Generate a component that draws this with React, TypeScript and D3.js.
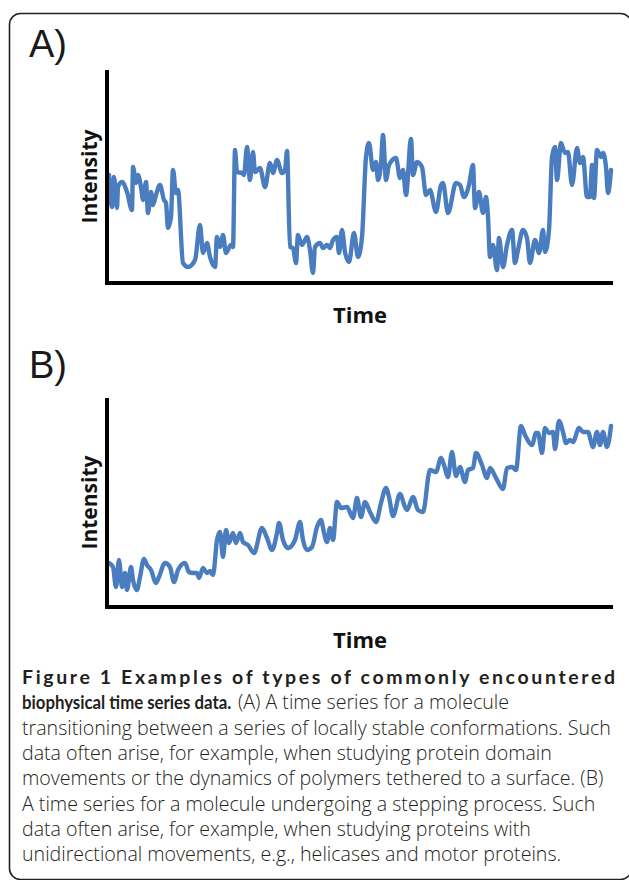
import React, { useLayoutEffect, useRef, useState } from "react";
import * as d3 from "d3";

// Panel A: time (arbitrary units) and intensity (arbitrary units)
const timeA = [2,5,7,10,11,15,20,25,26,29,31,34,36,39,41,44,46,49,53,57,59,61,64,66,69,71,76,81,88,93,96,100,103,108,110,113,116,119,124,126,128,130,135,137,140,143,146,148,153,158,163,166,170,175,178,180,183,186,189,191,195,200,203,206,208,213,216,220,223,226,230,232,235,238,242,247,251,255,259,262,266,269,271,274,276,279,282,289,293,296,299,304,306,310,315,319,323,329,334,336,341,349,353,357,362,366,368,372,376,379,381,383,386,390,392,396,400,405,408,411,416,420,423,428,432,436,438,442,445,448,450,454,458,461,465,470,473,476,480,483,485,487,490,494,496,499,501,504];
const intensityA = [108,76,106,75,96,101,91,73,116,100,108,96,83,101,70,91,78,88,98,83,80,55,66,113,90,93,20,16,23,58,30,40,26,16,46,36,48,30,38,36,133,111,110,108,136,103,131,111,115,96,120,110,123,110,113,132,36,35,20,48,38,46,33,10,36,40,35,38,35,43,46,30,53,31,21,50,26,46,126,140,113,121,103,120,148,103,118,125,105,113,88,144,108,121,116,88,93,71,98,100,70,100,98,86,98,118,75,91,70,86,66,26,38,13,45,16,38,53,20,33,53,45,20,43,30,53,31,53,126,136,103,140,130,131,98,135,120,126,86,86,118,85,133,126,130,116,90,113];

// Panel B
const timeB = [2,6,9,12,15,18,20,24,26,30,33,37,40,44,49,52,58,63,67,71,78,82,86,90,92,96,100,103,106,110,113,116,119,122,126,129,133,136,141,147,155,160,165,170,172,176,181,188,193,196,200,205,210,214,217,220,223,226,230,234,240,246,250,254,258,263,269,274,279,282,286,293,298,300,306,311,316,323,329,334,337,341,345,349,353,358,361,366,369,375,380,383,389,396,400,405,409,414,418,425,429,431,435,438,442,446,448,452,456,459,463,466,472,476,481,486,490,493,496,500,504];
const intensityB = [44,40,20,47,20,34,17,40,27,17,30,48,42,37,24,30,44,40,25,37,44,35,34,34,29,39,34,36,32,67,75,50,77,64,74,64,74,65,62,54,79,69,57,74,84,67,59,67,85,67,57,60,80,87,74,65,79,67,105,99,100,89,109,90,105,95,85,104,119,110,91,113,100,97,110,97,95,137,135,149,142,130,155,131,140,125,137,139,154,142,129,139,129,118,139,140,137,181,172,162,174,174,154,179,174,175,158,186,175,164,167,165,179,175,175,160,175,162,175,160,181];

const panelLabels = ["A)", "B)"];
const yAxisLabel = "Intensity";
const xAxisLabel = "Time";

const captionBoldLead = "Figure 1 Examples of types of commonly encountered";
const captionBoldTail = "biophysical time series data.";
const captionLines = [
  "(A) A time series for a molecule",
  "transitioning between a series of locally stable conformations. Such",
  "data often arise, for example, when studying protein domain",
  "movements or the dynamics of polymers tethered to a surface. (B)",
  "A time series for a molecule undergoing a stepping process. Such",
  "data often arise, for example, when studying proteins with",
  "unidirectional movements, e.g., helicases and motor proteins.",
];

const W = 629;
const H = 880;
const LINE_COLOR = "#4a7dbf";
const TEXT_COLOR = "#231f20";

type PanelProps = {
  times: number[];
  values: number[];
  tMax: number;
  vMax: number;
  axisTop: number;
  axisBottom: number;
  label: string;
  labelBaseline: number;
  timeBaseline: number;
};

function Panel(p: PanelProps) {
  const x = d3.scaleLinear().domain([0, p.tMax]).range([107, 613]);
  const y = d3.scaleLinear().domain([0, p.vMax]).range([p.axisBottom, p.axisTop]);
  const pts = p.times.map((t, i) => [t, p.values[i]] as [number, number]);
  const line = d3
    .line<[number, number]>()
    .x((d) => x(d[0]))
    .y((d) => y(d[1]))
    .curve(d3.curveMonotoneX);
  const midY = (p.axisTop + p.axisBottom) / 2;
  return (
    <g>
      <text
        x={29}
        y={p.labelBaseline}
        fontFamily="'Liberation Sans', Arial, sans-serif"
        fontSize={38}
        fill="#1a1a1a"
      >
        {p.label}
      </text>
      <path
        d={line(pts) || ""}
        fill="none"
        stroke={LINE_COLOR}
        strokeWidth={4.4}
        strokeLinejoin="round"
        strokeLinecap="round"
      />
      <line x1={x(0)} x2={x(0)} y1={p.axisTop} y2={p.axisBottom + 2} stroke="#000" strokeWidth={4} />
      <line x1={x(0) - 2} x2={x(p.tMax)} y1={p.axisBottom} y2={p.axisBottom} stroke="#000" strokeWidth={4} />
      <text
        transform={`translate(97,${midY}) rotate(-90)`}
        textAnchor="middle"
        fontFamily="'Open Sans', sans-serif"
        fontWeight={700}
        fontSize={21}
        fill="#111"
      >
        {yAxisLabel}
      </text>
      <text
        x={360}
        y={p.timeBaseline}
        textAnchor="middle"
        fontFamily="'Open Sans', sans-serif"
        fontWeight={700}
        fontSize={22}
        fill="#111"
      >
        {xAxisLabel}
      </text>
    </g>
  );
}

export default function App() {
  const tailRef = useRef<SVGTextElement>(null);
  const [tailScale, setTailScale] = useState(0.8);

  useLayoutEffect(() => {
    document.body.style.margin = "0";
    const el = tailRef.current;
    if (el) {
      const w = el.getComputedTextLength();
      if (w > 0) setTailScale(209 / w);
    }
  }, []);

  const capX = 22;
  const capTop = 684;
  const lh = 25.3;
  const regFont = "'Open Sans', sans-serif";
  const boldFont = "Lato, sans-serif";

  return (
    <svg width={W} height={H} style={{ display: "block" }}>
      <rect x={0} y={0} width={W} height={H} fill="#fff" />
      <rect x={9.5} y={13.5} width={622} height={866} rx={11} ry={11} fill="none" stroke="#222" strokeWidth={1.6} />
      <Panel
        times={timeA}
        values={intensityA}
        tMax={506}
        vMax={213}
        axisTop={70}
        axisBottom={283}
        label={panelLabels[0]}
        labelBaseline={57}
        timeBaseline={323}
      />
      <Panel
        times={timeB}
        values={intensityB}
        tMax={506}
        vMax={209}
        axisTop={398}
        axisBottom={607}
        label={panelLabels[1]}
        labelBaseline={378}
        timeBaseline={648}
      />
      <g fill={TEXT_COLOR}>
        <text
          x={capX}
          y={capTop}
          fontFamily={boldFont}
          fontWeight={700}
          fontSize={19.5}
          textLength={593}
          lengthAdjust="spacing"
        >
          {captionBoldLead}
        </text>
        <text
          ref={tailRef}
          transform={`translate(${capX},${capTop + lh}) scale(${tailScale},1)`}
          fontFamily={boldFont}
          fontWeight={700}
          fontSize={19.5}
        >
          {captionBoldTail}
        </text>
        <text x={238} y={capTop + lh} fontFamily={regFont} fontWeight={300} fontSize={19.6}>
          {captionLines[0]}
        </text>
        {captionLines.slice(1).map((s, i) => (
          <text
            key={i}
            x={capX}
            y={capTop + lh * (i + 2)}
            fontFamily={regFont}
            fontWeight={300}
            fontSize={19.6}
          >
            {s}
          </text>
        ))}
      </g>
    </svg>
  );
}
